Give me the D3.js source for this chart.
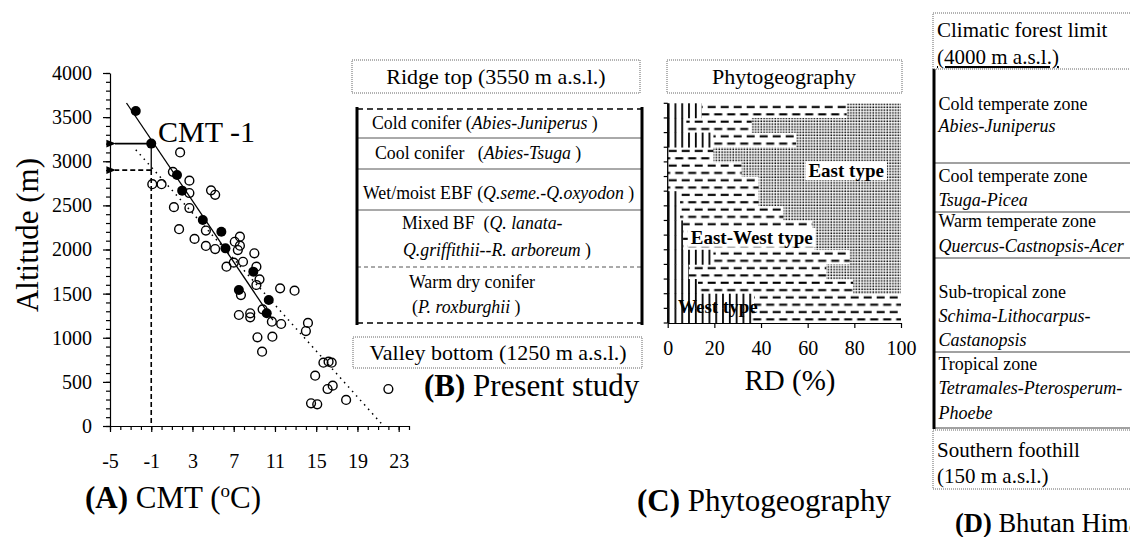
<!DOCTYPE html>
<html><head><meta charset="utf-8">
<script src="https://cdn.jsdelivr.net/npm/d3@7"></script>
<style>
html,body{margin:0;padding:0;background:#fff;}
svg{display:block;font-family:"Liberation Serif","Times New Roman",serif;}
</style></head><body>
<svg id="chart" width="1130" height="537"></svg>
<script>
// ---------- Panel A data ----------
const openCMT = [-0.9,0.0,1.8,1.1,1.2,1.7,2.7,2.7,2.7,3.2,4.3,4.3,5.2,4.8,5.2,6.3,7.0,7.1,7.6,7.4,7.6,7.9,9.0,9.2,9.5,9.2,7.7,7.5,8.6,8.6,9.8,10.7,11.6,11.5,12.9,9.3,10.75,9.75,14.2,14.0,15.7,16.2,16.5,14.9,16.1,16.6,14.5,15.1,17.9,22.0];
const openAlt = [2740,2740,3100,2880,2480,2230,2780,2640,2470,2120,2215,2040,2005,2670,2620,1805,1851,2088,2145,1994,2043,1861,1957,1805,1662,1598,1484,1258,1277,1232,1322,1182,1156,1560,1533,1005,1012,842,1168,1076,717,729,717,570,419,457,257,246,295,419];
const filledCMT = [-2.5,-1.0,1.5,2.0,4.0,5.8,6.2,8.9,7.5,10.4,10.2];
const filledAlt = [3570,3200,2844,2667,2334,2202,2013,1749,1541,1428,1277];
const solidFitCMT = [-3.4,10.8];
const solidFitAlt = [3660,1200];
const dottedFitCMT = [-2.5,21.3];
const dottedFitAlt = [3130,30];
const limitCMT = -1;
const limitAlt = [3200,2900];
const xTicksA = [-5,-1,3,7,11,15,19,23];
const yTicksA = [0,500,1000,1500,2000,2500,3000,3500,4000];

// ---------- Panel C data (RD %, rows top to bottom) ----------
const rowsC = d3.range(1,16);
const westRD =     [14.6, 8.0, 19.6, 0.0, 0.0, 0.0, 5.3, 5.3, 6.6, 6.6, 19.6, 9.0, 13.0, 37.0, 36.0];
const eastWestRD = [62.1,28.0, 35.4,19.6,31.7,39.0,33.7,44.3,55.4,56.4, 58.4,59.0, 66.5, 63.0, 64.0];
const eastRD =     [23.3,64.0, 45.0,80.4,68.3,61.0,61.0,50.4,38.0,37.0, 22.0,32.0, 20.5,  0.0,  0.0];
const xTicksC = [0,20,40,60,80,100];

// ---------- Text content ----------
const panelBTop = "Ridge top (3550 m a.s.l.)";
const panelBBottom = "Valley bottom (1250 m a.s.l.)";
const panelBZones = [
  [[["Cold conifer (",0],["Abies-Juniperus",1],[" )",0]]],
  [[["Cool conifer   (",0],["Abies-Tsuga",1],[" )",0]]],
  [[["Wet/moist EBF (",0],["Q.seme.-Q.oxyodon",1],[" )",0]]],
  [[["Mixed BF  (",0],["Q. lanata-",1]],[["Q.griffithii--R. arboreum",1],[" )",0]]],
  [[["Warm dry conifer",0]],[["(",0],["P. roxburghii",1],[" )",0]]]
];
const panelDTop = ["Climatic forest limit","(4000 m a.s.l.)"];
const panelDZones = [
  [["Cold temperate zone",0],["Abies-Juniperus",1]],
  [["Cool temperate zone",0],["Tsuga-Picea",1]],
  [["Warm temperate zone",0],["Quercus-Castnopsis-Acer",1]],
  [["Sub-tropical zone",0],["Schima-Lithocarpus-",1],["Castanopsis",1]],
  [["Tropical zone",0],["Tetramales-Pterosperum-",1],["Phoebe",1]]
];
const panelDBottom = ["Southern foothill","(150 m a.s.l.)"];

const FONT = "Liberation Serif";
const svg = d3.select("#chart");
svg.append("rect").attr("width",1130).attr("height",537).attr("fill","#fff");
const defs = svg.append("defs");
defs.append("marker").attr("id","arr").attr("viewBox","0 0 10 10").attr("refX",1).attr("refY",5)
  .attr("markerWidth",6).attr("markerHeight",6).attr("orient","auto-start-reverse")
  .append("path").attr("d","M10,1 L0,5 L10,9 Z").attr("fill","#000");

// ================= Panel A =================
const xA = d3.scaleLinear().domain([-5,24]).range([110,409]);
const yA = d3.scaleLinear().domain([0,4000]).range([426,73]);
const gA = svg.append("g");

gA.append("g").attr("transform","translate(110,0)")
  .call(d3.axisLeft(yA).tickValues(d3.range(0,4001,100)).tickSize(4).tickFormat(""))
  .call(g=>g.select(".domain").remove());
gA.append("g").attr("transform","translate(0,426)")
  .call(d3.axisBottom(xA).tickValues(d3.range(-5,25,1)).tickSize(4).tickFormat(""))
  .call(g=>g.select(".domain").remove());
const yAx = gA.append("g").attr("transform","translate(110,0)")
  .call(d3.axisLeft(yA).tickValues(yTicksA).tickFormat(d=>String(d)).tickSizeInner(7).tickSizeOuter(0).tickPadding(11));
const xAx = gA.append("g").attr("transform","translate(0,426)")
  .call(d3.axisBottom(xA).tickValues(xTicksA).tickFormat(d=>String(d)).tickSizeInner(6).tickSizeOuter(0).tickPadding(22));
[yAx,xAx].forEach(a=>{a.attr("font-family",null).attr("font-size",null);
  a.selectAll("text").attr("font-size",20).attr("font-family",FONT);});
gA.selectAll(".domain, .tick line").attr("stroke","#000").attr("stroke-width",1.2);

gA.append("line").attr("x1",xA(dottedFitCMT[0])).attr("y1",yA(dottedFitAlt[0]))
  .attr("x2",xA(dottedFitCMT[1])).attr("y2",yA(dottedFitAlt[1]))
  .attr("stroke","#000").attr("stroke-width",1.5).attr("stroke-dasharray","1.5,4.5");
gA.append("line").attr("x1",xA(solidFitCMT[0])).attr("y1",yA(solidFitAlt[0]))
  .attr("x2",xA(solidFitCMT[1])).attr("y2",yA(solidFitAlt[1]))
  .attr("stroke","#000").attr("stroke-width",1.3);

gA.append("line").attr("x1",xA(limitCMT)).attr("y1",yA(limitAlt[0])).attr("x2",xA(limitCMT)).attr("y2",yA(limitAlt[1]))
  .attr("stroke","#000").attr("stroke-width",1.3);
gA.append("line").attr("x1",xA(limitCMT)).attr("y1",yA(limitAlt[1])).attr("x2",xA(limitCMT)).attr("y2",yA(0))
  .attr("stroke","#000").attr("stroke-width",1.6).attr("stroke-dasharray","5,3");
gA.append("line").attr("x1",xA(limitCMT)).attr("y1",yA(limitAlt[0])).attr("x2",xA(-5)+5).attr("y2",yA(limitAlt[0]))
  .attr("stroke","#000").attr("stroke-width",1.6).attr("marker-end","url(#arr)");
gA.append("line").attr("x1",xA(limitCMT)).attr("y1",yA(limitAlt[1])).attr("x2",xA(-5)+5).attr("y2",yA(limitAlt[1]))
  .attr("stroke","#000").attr("stroke-width",1.6).attr("stroke-dasharray","5,3").attr("marker-end","url(#arr)");

gA.append("g").selectAll("circle").data(openCMT).join("circle")
  .attr("cx",d=>xA(d)).attr("cy",(d,i)=>yA(openAlt[i])).attr("r",4.4)
  .attr("fill","none").attr("stroke","#000").attr("stroke-width",1.4);
gA.append("g").selectAll("circle").data(filledCMT).join("circle")
  .attr("cx",d=>xA(d)).attr("cy",(d,i)=>yA(filledAlt[i])).attr("r",5).attr("fill","#000");

gA.append("text").attr("x",158).attr("y",142).attr("font-size",30).text("CMT -1");
gA.append("text").attr("transform","translate(38,235) rotate(-90)").attr("text-anchor","middle")
  .attr("font-size",31).text("Altitude (m)");
const tA = gA.append("text").attr("x",85).attr("y",508).attr("font-size",31);
tA.append("tspan").attr("font-weight","bold").text("(A)");
tA.append("tspan").text(" CMT (");
tA.append("tspan").attr("font-size",19).attr("dy",-11).text("o");
tA.append("tspan").attr("dy",11).text("C)");

// ================= helpers =================
function dottedBox(x,y,w,h){
  svg.append("rect").attr("x",x).attr("y",y).attr("width",w).attr("height",h)
    .attr("fill","none").attr("stroke","#666").attr("stroke-width",1).attr("stroke-dasharray","1,1");
}
function richText(g,x,y,segs,size,anchor){
  const t = g.append("text").attr("x",x).attr("y",y).attr("font-size",size).attr("text-anchor",anchor||"start")
    .attr("xml:space","preserve");
  segs.forEach(s=>t.append("tspan").attr("font-style",s[1]?"italic":"normal").text(s[0]));
  return t;
}

// ================= Panel B =================
const gB = svg.append("g");
dottedBox(352,60,288,33);
gB.append("text").attr("x",496).attr("y",84).attr("text-anchor","middle").attr("font-size",22).text(panelBTop);
dottedBox(353,337,289,31);
gB.append("text").attr("x",498).attr("y",360).attr("text-anchor","middle").attr("font-size",22).text(panelBBottom);
const bLines = [109,138,169,210,267,323];
const bStyle = ["6,4",null,null,null,"4,3","6,4"];
bLines.forEach((y,i)=>{
  gB.append("line").attr("x1",357).attr("x2",642).attr("y1",y).attr("y2",y)
    .attr("stroke",i===0||i===5?"#000":"#555").attr("stroke-width",i===0||i===5?1.5:1)
    .attr("stroke-dasharray",bStyle[i]);
});
gB.append("line").attr("x1",357).attr("x2",357).attr("y1",107).attr("y2",325).attr("stroke","#000").attr("stroke-width",3);
gB.append("line").attr("x1",642).attr("x2",642).attr("y1",107).attr("y2",325).attr("stroke","#000").attr("stroke-width",3);
const bTextPos = [[[372,129]],[[375,159]],[[363,199]],[[402,229],[403,256]],[[409,288],[412,313]]];
panelBZones.forEach((zone,i)=>{
  zone.forEach((line,j)=>richText(gB,bTextPos[i][j][0],bTextPos[i][j][1],line,17.8));
});
const tB = gB.append("text").attr("x",424).attr("y",396).attr("font-size",31);
tB.append("tspan").attr("font-weight","bold").text("(B)");
tB.append("tspan").text(" Present study");

// ================= Panel C =================
const gC = svg.append("g");
dottedBox(667,60,235,33);
gC.append("text").attr("x",784).attr("y",84).attr("text-anchor","middle").attr("font-size",22).text("Phytogeography");
const xC = d3.scaleLinear().domain([0,100]).range([667.7,901]);
const yC = d3.scaleBand().domain(rowsC).range([103.3,323]);
const bw = yC.bandwidth();
const pW = defs.append("pattern").attr("id","pWest").attr("patternUnits","userSpaceOnUse")
  .attr("x",xC(0)).attr("y",0).attr("width",6.8).attr("height",10);
pW.append("rect").attr("x",0).attr("y",0).attr("width",1.8).attr("height",10).attr("fill","#000");
const pE = defs.append("pattern").attr("id","pEW").attr("patternUnits","userSpaceOnUse")
  .attr("x",xC(0)).attr("y",yC.range()[0]).attr("width",13).attr("height",bw);
pE.append("rect").attr("x",1).attr("y",bw*0.25-1).attr("width",8).attr("height",2.1).attr("fill","#000");
pE.append("rect").attr("x",7.5).attr("y",bw*0.75-1).attr("width",8).attr("height",2.1).attr("fill","#000");
pE.append("rect").attr("x",-5.5).attr("y",bw*0.75-1).attr("width",8).attr("height",2.1).attr("fill","#000");
const pD = defs.append("pattern").attr("id","pEast").attr("patternUnits","userSpaceOnUse")
  .attr("x",xC(0)).attr("y",yC.range()[0]).attr("width",2.8).attr("height",2.8);
pD.append("rect").attr("x",0.4).attr("y",0.4).attr("width",1.6).attr("height",1.6).attr("fill","#111");

const dataC = rowsC.map((r,i)=>({row:r, west:westRD[i], eastWest:eastWestRD[i], east:eastRD[i]}));
const stackC = d3.stack().keys(["west","eastWest","east"])(dataC);
const fills = {west:"url(#pWest)", eastWest:"url(#pEW)", east:"url(#pEast)"};
gC.selectAll("g.layer").data(stackC).join("g").attr("class","layer").attr("fill",d=>fills[d.key])
  .selectAll("rect").data(d=>d).join("rect")
  .attr("x",d=>xC(d[0])).attr("width",d=>Math.max(0,xC(d[1])-xC(d[0])))
  .attr("y",d=>yC(d.data.row)).attr("height",bw+0.3);

function boxLabel(txt,cx,cy,bg){
  const t = gC.append("text").attr("x",cx).attr("y",cy).attr("text-anchor","middle").attr("dominant-baseline","central")
    .attr("font-size",19).attr("font-weight","bold").text(txt);
  if(bg){
    const bb = t.node().getBBox();
    gC.insert("rect",()=>t.node()).attr("x",bb.x-3).attr("y",bb.y+1).attr("width",bb.width+6).attr("height",bb.height-2).attr("fill","#fff");
  }
}
boxLabel("East type",xC(76.5),yC(5)+bw*0.6,true);
boxLabel("East-West type",xC(36),yC(10)+bw*0.15,true);
boxLabel("West type",xC(21.5),yC(15)-bw*0.1,false);

const xCax = gC.append("g").attr("transform","translate(0,323)")
  .call(d3.axisBottom(xC).tickValues(xTicksC).tickSizeInner(5).tickSizeOuter(0).tickPadding(13));
xCax.attr("font-family",null).attr("font-size",null);
xCax.selectAll("text").attr("font-size",20).attr("font-family",FONT);
const bounds = rowsC.map(r=>yC(r)).concat([yC.range()[1]]);
gC.append("line").attr("x1",xC(0)).attr("x2",xC(0)).attr("y1",yC.range()[0]).attr("y2",yC.range()[1]).attr("stroke","#000").attr("stroke-width",1.3);
gC.selectAll("line.yt").data(bounds).join("line").attr("class","yt")
  .attr("x1",xC(0)-4).attr("x2",xC(0)).attr("y1",d=>d).attr("y2",d=>d).attr("stroke","#000").attr("stroke-width",1.2);
gC.selectAll(".domain, .tick line").attr("stroke","#000").attr("stroke-width",1.2);
gC.append("text").attr("x",790).attr("y",390).attr("text-anchor","middle").attr("font-size",29).text("RD (%)");
const tC = gC.append("text").attr("x",637).attr("y",511).attr("font-size",31);
tC.append("tspan").attr("font-weight","bold").text("(C)");
tC.append("tspan").text(" Phytogeography");

// ================= Panel D =================
const gD = svg.append("g");
dottedBox(933,13,240,56);
gD.append("text").attr("x",937).attr("y",37).attr("font-size",21).text(panelDTop[0]);
gD.append("text").attr("x",937).attr("y",64).attr("font-size",21).attr("text-decoration","underline").text(panelDTop[1]);
const dLines = [163,212,258,352,428];
dLines.forEach(y=>gD.append("line").attr("x1",934).attr("x2",1135).attr("y1",y).attr("y2",y).attr("stroke","#444").attr("stroke-width",1.2));
gD.append("line").attr("x1",934).attr("x2",934).attr("y1",69).attr("y2",429).attr("stroke","#000").attr("stroke-width",3);
const dTextY = [[110,132],[182,206],[227,252],[298,322,346],[370,394,419]];
panelDZones.forEach((zone,i)=>{
  zone.forEach((s,j)=>richText(gD,938.5,dTextY[i][j],[s],18));
});
dottedBox(933,430,240,59);
gD.append("text").attr("x",937).attr("y",457).attr("font-size",21).text(panelDBottom[0]);
gD.append("text").attr("x",937).attr("y",483).attr("font-size",21).text(panelDBottom[1]);
const tD = gD.append("text").attr("x",955).attr("y",532).attr("font-size",26.5);
tD.append("tspan").attr("font-weight","bold").text("(D)");
tD.append("tspan").text(" Bhutan Himalaya");
</script>
</body></html>
